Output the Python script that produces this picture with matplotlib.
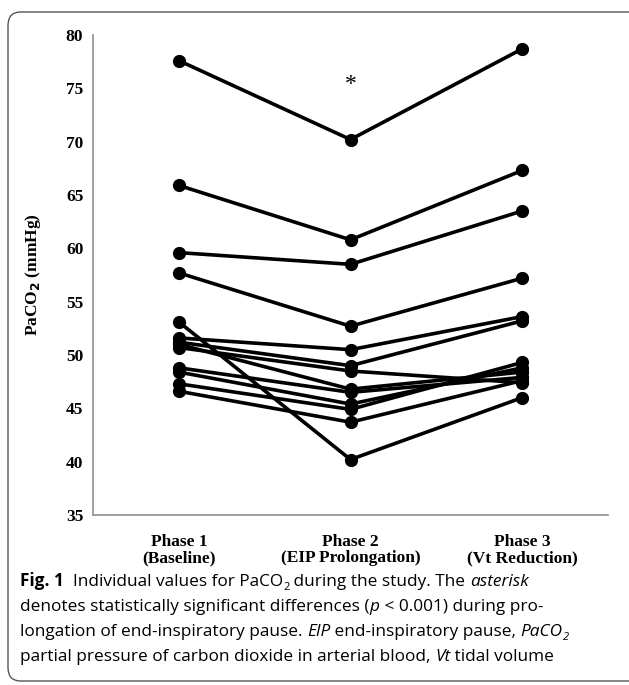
import numpy as np
import matplotlib
matplotlib.use("Agg")
from matplotlib import pyplot as plt
from matplotlib.patches import FancyBboxPatch

# PaCO2 per patient, phase 1 / 2 / 3
phase1 = [77.6, 65.9, 59.6, 57.7, 53.1, 51.6, 51.2, 50.7, 51.0, 48.8, 48.4, 47.3, 46.6]
phase2 = [70.2, 60.8, 58.5, 52.7, 40.2, 50.5, 49.0, 48.5, 46.8, 46.5, 45.4, 44.9, 43.7]
phase3 = [78.7, 67.3, 63.5, 57.2, 46.0, 53.6, 53.2, 47.4, 48.4, 47.9, 48.8, 49.3, 47.6]
phase_labels = ['Phase 1\n(Baseline)', 'Phase 2\n(EIP Prolongation)', 'Phase 3\n(Vt Reduction)']
yticks = [35, 40, 45, 50, 55, 60, 65, 70, 75, 80]

W, H = 629, 685
fig = plt.figure(figsize=(W/100, H/100), dpi=100)
ax = fig.add_axes([93/W, 1-515/H, (608-93)/W, (515-35)/H])

x = [1, 2, 3]
for a, b, c in zip(phase1, phase2, phase3):
    ax.plot(x, [a, b, c], color='black', lw=2.6, marker='o', ms=8.5, solid_capstyle='round')

ax.text(2, 75.4, '*', ha='center', va='center', fontsize=17, family='Liberation Serif')

serif = 'Liberation Serif'
ax.set_xlim(0.5, 3.5)
ax.set_ylim(35, 80)
ax.set_yticks(yticks)
ax.set_xticks(x)
ax.set_xticklabels(phase_labels, family=serif, fontweight='bold', fontsize=12.5, linespacing=1.0)
ax.set_yticklabels([str(t) for t in yticks], family=serif, fontweight='bold', fontsize=12.5)
ax.tick_params(axis='both', length=0)
ax.tick_params(axis='y', pad=7)
ax.tick_params(axis='x', pad=14)
for s in ['top', 'right']:
    ax.spines[s].set_visible(False)
for s in ['left', 'bottom']:
    ax.spines[s].set_color('#999999')
    ax.spines[s].set_linewidth(1.3)
ax.set_ylabel('PaCO$_\\mathbf{2}$ (mmHg)', family=serif, fontweight='bold', fontsize=12.5)
ax.yaxis.set_label_coords(-0.097, 0.5)

# rounded frame around figure + caption
frame = FancyBboxPatch((8/W, 4/H), 700/W, (673-4)/H, boxstyle='round,pad=0,rounding_size=0.02',
                       transform=fig.transFigure, fill=False, ec='#555555', lw=1.0)
fig.patches.append(frame)

cap_font = 'Open Sans'
cap_size = 12.4
cap_lines = [
    [('Fig. 1', 'b'), ('  Individual values for PaCO', 'n'), ('2', 'sub'),
     (' during the study. The ', 'n'), ('asterisk', 'i')],
    [('denotes statistically significant differences (', 'n'), ('p', 'i'),
     (' < 0.001) during pro-', 'n')],
    [('longation of end-inspiratory pause. ', 'n'), ('EIP', 'i'), (' end-inspiratory pause, ', 'n'),
     ('PaCO', 'i'), ('2', 'isub')],
    [('partial pressure of carbon dioxide in arterial blood, ', 'n'), ('Vt', 'i'), (' tidal volume', 'n')],
]
fig.canvas.draw()
renderer = fig.canvas.get_renderer()
line_y = [586, 611, 636, 661]
for segs, ly in zip(cap_lines, line_y):
    xpos = 20
    for txt, st in segs:
        kw = dict(family=cap_font, fontsize=cap_size, va='baseline', ha='left')
        yy = ly
        if st == 'b':
            kw['fontweight'] = 'bold'
        if st in ('i', 'isub'):
            kw['style'] = 'italic'
        if st in ('sub', 'isub'):
            kw['fontsize'] = cap_size * 0.65
            yy = ly + 4
        t = fig.text(xpos/W, 1-yy/H, txt, **kw)
        bb = t.get_window_extent(renderer)
        xpos += bb.width

fig.savefig('out.png', dpi=100)
